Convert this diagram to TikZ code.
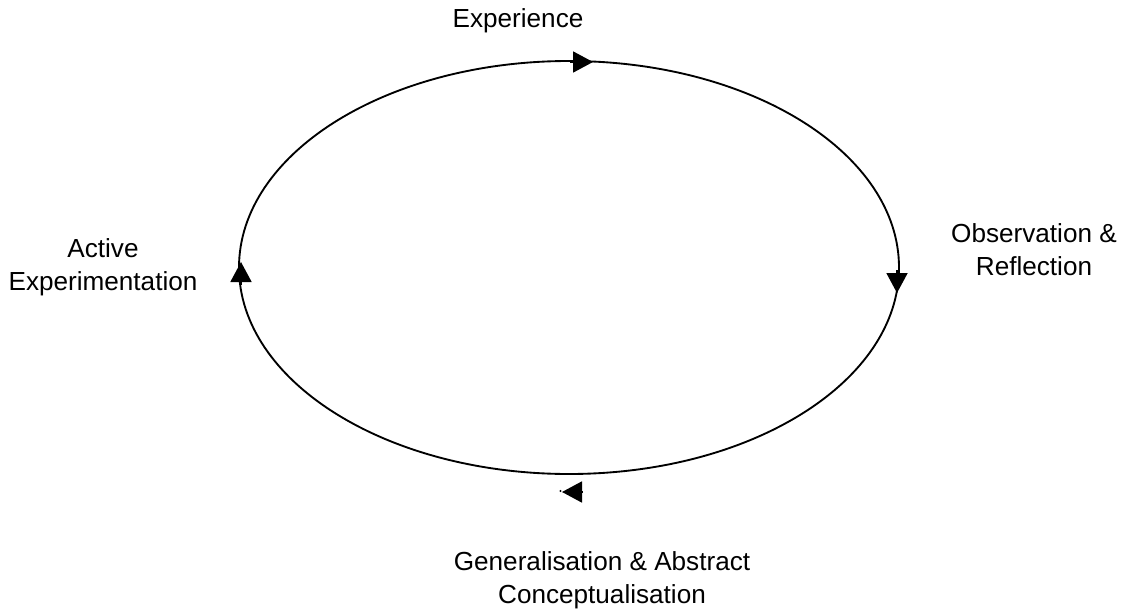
\documentclass[tikz,border=0pt]{standalone}
\usepackage{fontspec}
\setmainfont{Liberation Sans}
\usepackage{tikz}
\usetikzlibrary{arrows.meta}

\begin{document}
\begin{tikzpicture}[x=0.75pt, y=-0.75pt]
  \tikzstyle{stagetext} = [align=center, anchor=base, inner sep=0pt,
    font=\fontsize{19.6}{24.75}\selectfont]
  \tikzstyle{cycletip} = [line width=1.4pt,
    -{Triangle[length=15pt, width=15.75pt]}]

  \useasboundingbox (0,0) rectangle (1123,610);

  \draw[line width=1.4pt] (569,267.5) ellipse [x radius=330, y radius=206.5];

  \draw[cycletip] (570,62) -- (593,62);
  \draw[cycletip] (897,270) -- (897,293);
  \draw[cycletip] (241,285) -- (241,262);
  \draw[cycletip] (582,492) -- (562,492);
  \fill (560.5,491) circle (1.2);

  \node[stagetext] (exp) at (518,28) {Experience};
  \node[stagetext] (obs) at (1034,275) {Observation \&\\Reflection};
  \node[stagetext] (gen) at (602,603)
    {Generalisation \& Abstract\\Conceptualisation};
  \node[stagetext] (act) at (103,290) {Active\\Experimentation};
\end{tikzpicture}
\end{document}
